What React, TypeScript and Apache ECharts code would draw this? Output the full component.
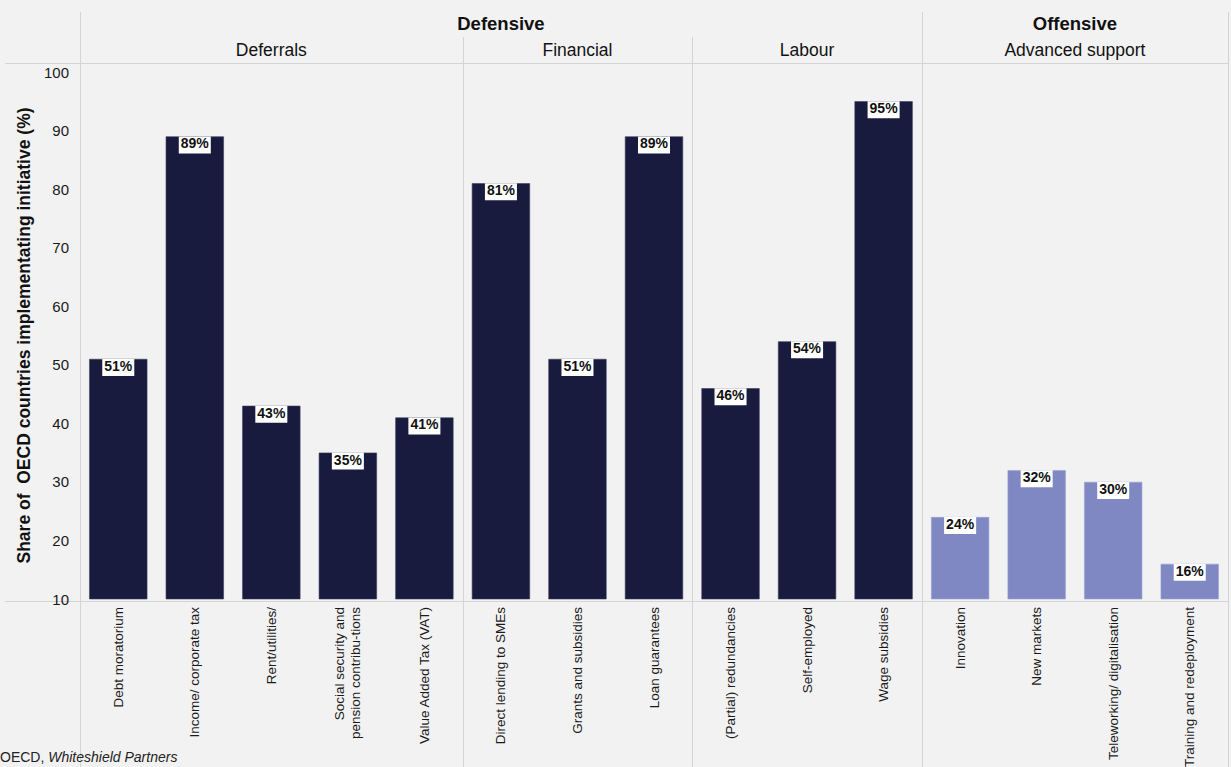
import React, { useEffect, useRef } from "react";
import * as echarts from "echarts";

const categories = [
  "Debt moratorium",
  "Income/ corporate tax",
  "Rent/utilities/",
  "Social security and\npension contribu-tions",
  "Value Added Tax (VAT)",
  "Direct lending to SMEs",
  "Grants and subsidies",
  "Loan guarantees",
  "(Partial) redundancies",
  "Self-employed",
  "Wage subsidies",
  "Innovation",
  "New markets",
  "Teleworking/ digitalisation",
  "Training and redeployment",
];
const values = [51, 89, 43, 35, 41, 81, 51, 89, 46, 54, 95, 24, 32, 30, 16];
const groupNames = ["Deferrals", "Financial", "Labour", "Advanced support"];
const groupSizes = [5, 3, 3, 4];
const superNames = ["Defensive", "Offensive"];
const superGroupCounts = [3, 1]; // number of groups in each super group
const offensiveGroup = 3;

const DARK = "#181b3d";
const LIGHT = "#7f88c3";
const FONT = '"Liberation Sans Narrow", "Arial Narrow", "Liberation Sans", Arial, sans-serif';
const LINE = "#d4d4d4";

const W = 1231;
const H = 767;
const GRID = { left: 80, right: 3, top: 72, bottom: 168 };

export default function App() {
  const ref = useRef<HTMLDivElement>(null);
  useEffect(() => {
    if (!ref.current) return;
    const chart = echarts.init(ref.current, undefined, { renderer: "svg" });
    const groupOf: number[] = [];
    groupSizes.forEach((s, g) => {
      for (let i = 0; i < s; i++) groupOf.push(g);
    });
    const option: any = {
      animation: false,
      backgroundColor: "#f2f2f2",
      textStyle: { fontFamily: FONT },
      grid: { ...GRID, containLabel: false, outerBoundsMode: "none" },
      xAxis: {
        type: "category",
        data: categories,
        axisLine: { show: false },
        axisTick: { show: false },
        axisLabel: {
          rotate: 90,
          interval: 0,
          margin: 8,
          fontSize: 13.5,
          color: "#1a1a1a",
          fontFamily: FONT,
          lineHeight: 16,
        },
      },
      yAxis: {
        type: "value",
        min: 10,
        max: 100,
        interval: 10,
        splitLine: { show: false },
        axisLine: { show: false },
        axisTick: { show: false },
        axisLabel: { fontSize: 15, color: "#1a1a1a", margin: 11, fontFamily: FONT },
        name: "Share of  OECD countries implementating initiative (%)",
        nameLocation: "middle",
        nameGap: 44,
        nameRotate: 90,
        nameTextStyle: { fontSize: 17.5, fontWeight: "bold", color: "#111", fontFamily: FONT },
      },
      series: [
        {
          type: "bar",
          barCategoryGap: "24%",
          data: values.map((v, i) => ({
            value: v,
            itemStyle: {
              color: groupOf[i] === offensiveGroup ? LIGHT : DARK,
              borderColor: groupOf[i] === offensiveGroup ? "#9aa1d2" : "#3a3d5c",
              borderWidth: 0.6,
            },
          })),
          label: {
            show: true,
            position: "insideTop",
            distance: 0,
            formatter: (p: any) => p.value + "%",
            backgroundColor: "#ffffff",
            padding: [0, 2, 3, 2],
            color: "#111",
            fontWeight: "bold",
            fontSize: 14,
            fontFamily: FONT,
          },
        },
      ],
    };
    chart.setOption(option);

    const band = (W - GRID.left - GRID.right) / categories.length;
    const edgeX = (idx: number) => {
      const c = chart.convertToPixel({ xAxisIndex: 0 }, 0) as number;
      return c - band / 2 + idx * band;
    };
    const graphics: any[] = [];
    const topY = 63.5;
    const baseY = Math.round((chart.convertToPixel({ yAxisIndex: 0 }, 10) as number) + 2) + 0.5;
    const rightX = edgeX(categories.length);
    graphics.push({ type: "line", shape: { x1: 5, y1: topY, x2: rightX, y2: topY }, style: { stroke: LINE, lineWidth: 1 } });
    graphics.push({ type: "line", shape: { x1: 5, y1: baseY, x2: rightX, y2: baseY }, style: { stroke: LINE, lineWidth: 1 } });

    const groupStart: number[] = [];
    let acc = 0;
    groupSizes.forEach((s) => {
      groupStart.push(acc);
      acc += s;
    });
    groupStart.push(acc);

    const superStartGroups: number[] = [];
    let ga = 0;
    superGroupCounts.forEach((c) => {
      superStartGroups.push(ga);
      ga += c;
    });
    superStartGroups.push(ga);

    for (let g = 0; g <= groupSizes.length; g++) {
      const x = Math.round(edgeX(groupStart[g])) + 0.5;
      const isSuper = superStartGroups.includes(g);
      graphics.push({
        type: "line",
        shape: { x1: x, y1: isSuper ? 12 : 37, x2: x, y2: H },
        style: { stroke: LINE, lineWidth: 1 },
      });
    }
    groupNames.forEach((name, g) => {
      const cx = (edgeX(groupStart[g]) + edgeX(groupStart[g + 1])) / 2;
      graphics.push({
        type: "text",
        x: cx,
        y: 50,
        style: { text: name, fontSize: 17.5, fill: "#111", fontFamily: FONT, align: "center", verticalAlign: "middle" },
      });
    });
    superNames.forEach((name, s) => {
      const x0 = edgeX(groupStart[superStartGroups[s]]);
      const x1 = edgeX(groupStart[superStartGroups[s + 1]]);
      graphics.push({
        type: "text",
        x: (x0 + x1) / 2,
        y: 23,
        style: { text: name, fontSize: 18.5, fontWeight: "bold", fill: "#111", fontFamily: FONT, align: "center", verticalAlign: "middle" },
      });
    });
    graphics.push({
      type: "text",
      x: 0,
      y: 750,
      style: {
        text: "{a|OECD, }{b|Whiteshield Partners}",
        rich: {
          a: { fontSize: 14, fill: "#222", fontFamily: FONT },
          b: { fontSize: 14, fill: "#222", fontStyle: "italic", fontFamily: FONT },
        },
        verticalAlign: "top",
      },
    });
    chart.setOption({ graphic: graphics });
    return () => chart.dispose();
  }, []);
  return (
    <div
      ref={ref}
      style={{ position: "fixed", left: 0, top: 0, width: W, height: H }}
    />
  );
}
